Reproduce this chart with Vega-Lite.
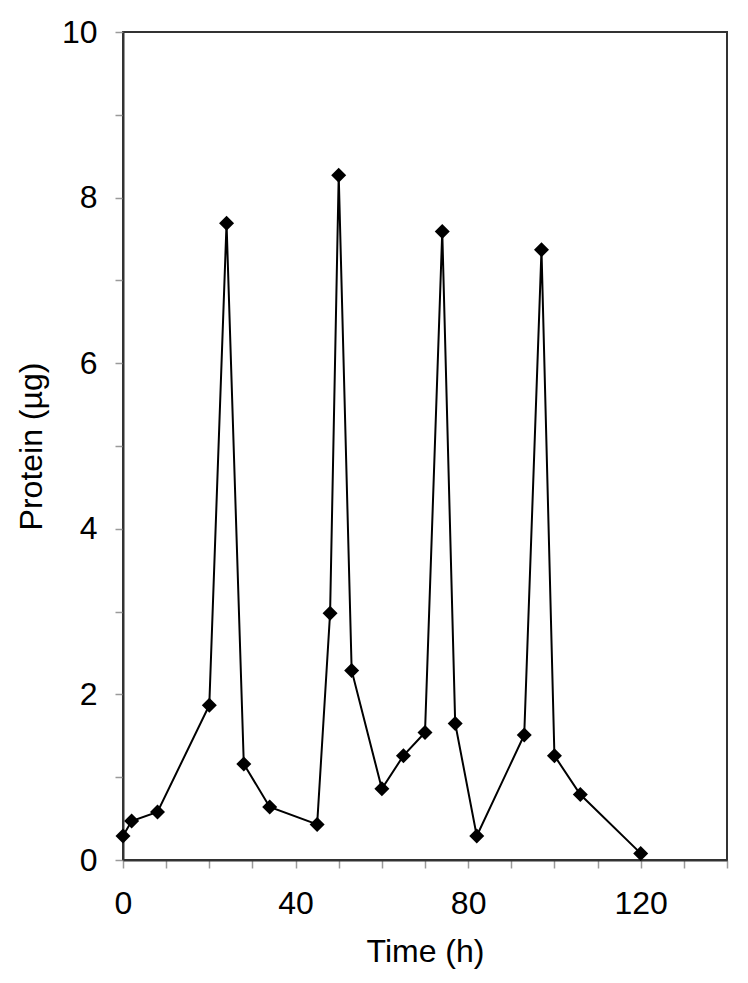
{
  "$schema": "https://vega.github.io/schema/vega-lite/v6.json",
  "autosize": {"type": "none"},
  "padding": {"left": 123, "top": 32, "right": 21, "bottom": 123},
  "width": 604,
  "height": 828,
  "background": "white",
  "config": {
    "view": {"stroke": "#333333", "strokeWidth": 2},
    "font": "Liberation Sans",
    "axis": {
      "grid": false,
      "domainColor": "#333333",
      "domainWidth": 2,
      "tickColor": "#9a9a9a",
      "tickSize": 8,
      "tickWidth": 1.5,
      "labelFont": "Liberation Sans",
      "labelFontSize": 32,
      "labelColor": "#000000",
      "titleFont": "Liberation Sans",
      "titleFontSize": 32,
      "titleFontWeight": "normal",
      "titleColor": "#000000"
    }
  },
  "data": {
    "values": [
      {"t": 0, "p": 0.29},
      {"t": 2, "p": 0.47},
      {"t": 8, "p": 0.58},
      {"t": 20, "p": 1.87},
      {"t": 24, "p": 7.69},
      {"t": 28, "p": 1.16},
      {"t": 34, "p": 0.64},
      {"t": 45, "p": 0.43},
      {"t": 48, "p": 2.98},
      {"t": 50, "p": 8.27},
      {"t": 53, "p": 2.29},
      {"t": 60, "p": 0.86},
      {"t": 65, "p": 1.26},
      {"t": 70, "p": 1.54},
      {"t": 74, "p": 7.59},
      {"t": 77, "p": 1.65},
      {"t": 82, "p": 0.29},
      {"t": 93, "p": 1.51},
      {"t": 97, "p": 7.37},
      {"t": 100, "p": 1.26},
      {"t": 106, "p": 0.79},
      {"t": 120, "p": 0.08}
    ]
  },
  "encoding": {
    "x": {
      "field": "t",
      "type": "quantitative",
      "scale": {"domain": [0, 140], "nice": false, "zero": false},
      "axis": {
        "title": "Time (h)",
        "values": [0, 10, 20, 30, 40, 50, 60, 70, 80, 90, 100, 110, 120, 130, 140],
        "labelExpr": "datum.value % 40 === 0 ? datum.label : ''",
        "labelPadding": 20,
        "titlePadding": 17,
        "labelFlush": false
      }
    },
    "y": {
      "field": "p",
      "type": "quantitative",
      "scale": {"domain": [0, 10], "nice": false},
      "axis": {
        "title": "Protein (µg)",
        "values": [0, 1, 2, 3, 4, 5, 6, 7, 8, 9, 10],
        "labelExpr": "datum.value % 2 === 0 ? datum.label : ''",
        "labelPadding": 18,
        "titlePadding": 13,
        "labelFlush": false
      }
    }
  },
  "layer": [
    {"mark": {"type": "line", "color": "#000000", "strokeWidth": 2}},
    {"mark": {"type": "point", "shape": "diamond", "filled": true, "color": "#000000", "opacity": 1, "size": 225}}
  ]
}
